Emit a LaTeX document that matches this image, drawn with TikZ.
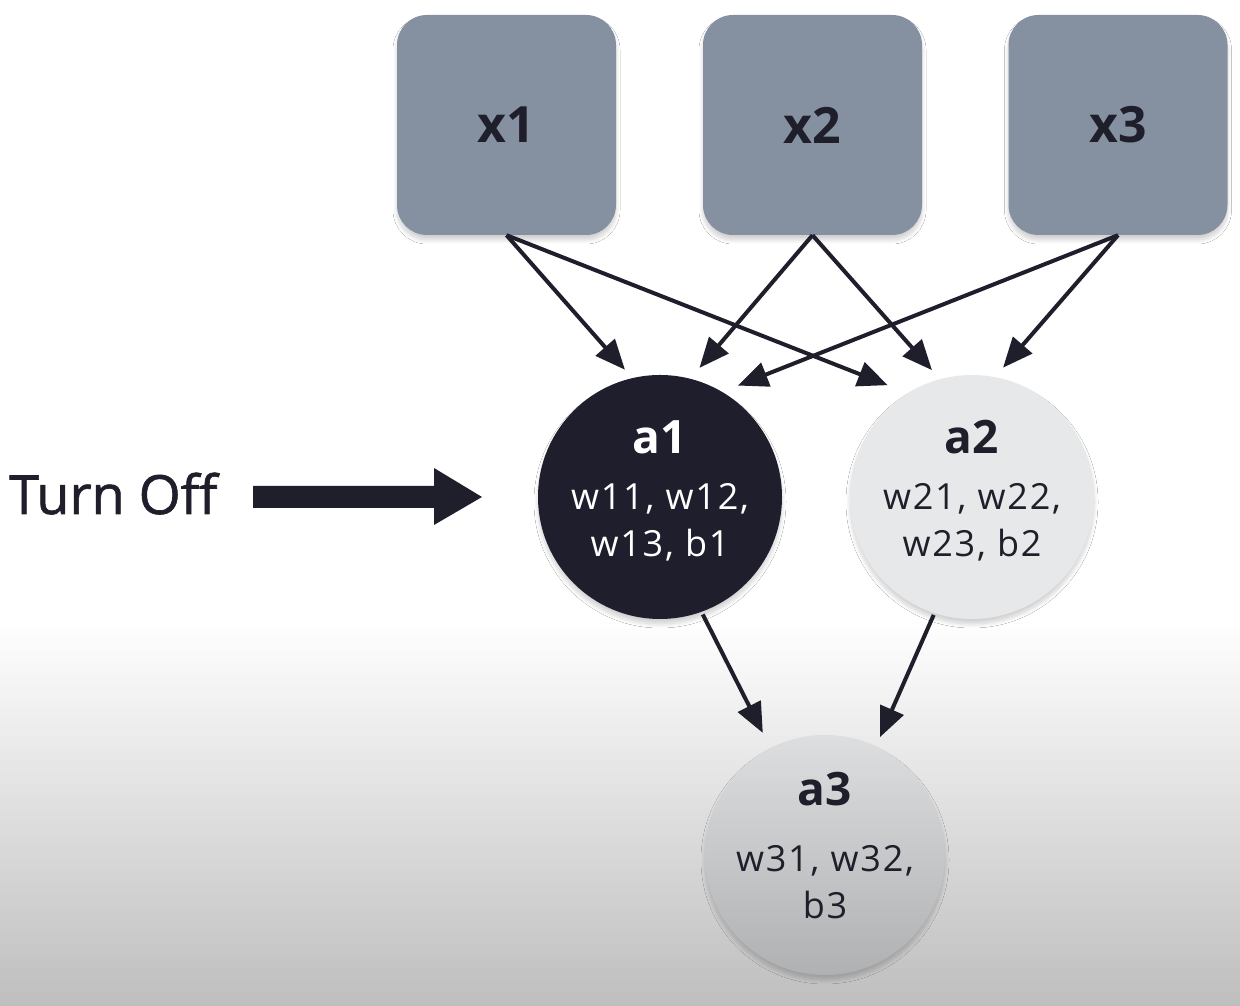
\documentclass[tikz,border=0pt]{standalone}
\usepackage{fontspec}
\setmainfont{Open Sans}
\newfontfamily\offfont[FakeBold=1.2]{Open Sans}
\usetikzlibrary{arrows.meta,calc,shadows.blur}
\definecolor{ink}{HTML}{1F1F2C}
\definecolor{boxc}{HTML}{8591A1}
\definecolor{aone}{HTML}{1E1E2D}
\definecolor{atwo}{HTML}{E7E8E9}
\definecolor{athree}{HTML}{CED0D2}
\definecolor{bgbot}{HTML}{BEBEBE}
\tikzset{
  softshadow/.style={blur shadow={shadow blur steps=8, shadow xshift=0pt, shadow yshift=-5pt, shadow blur radius=4pt, shadow opacity=18}},
  inbox/.style={rectangle, rounded corners=30pt, fill=boxc, minimum width=219pt, minimum height=220pt, inner sep=0pt,
    softshadow, font=\bfseries\fontsize{50}{50}\selectfont, text=ink},
  neuron/.style={circle, minimum size=#1, inner sep=0pt, softshadow},
  ttl/.style={font=\bfseries\fontsize{46}{46}\selectfont, text=ink, inner sep=0pt},
  wts/.style={font=\fontsize{36}{47}\selectfont\addfontfeatures{LetterSpace=5}, text=ink, align=center, inner sep=0pt},
  conn/.style={draw=ink, line width=4pt, -{Triangle[length=30pt,width=25pt]}},
}
\begin{document}
\begin{tikzpicture}[x=1pt,y=1pt]
\useasboundingbox (0,0) rectangle (1240,1006);
\fill[white] (0,380) rectangle (1240,1006);
\shade[top color=white, bottom color=bgbot] (0,0) rectangle (1240,386);
% inputs
\node[inbox] (x1) at (506.5,881) {x1};
\node[inbox] (x2) at (812.5,881) {x2};
\node[inbox] (x3) at (1118,881) {x3};
% neurons
\node[neuron=244pt, fill=aone] (a1) at (660,509) {};
\node[neuron=244pt, fill=atwo] (a2) at (972,509) {};
\node[neuron=240pt, top color=athree!70!white, bottom color=athree!85!black, shading angle=0] (a3) at (825,151) {};
\node[ttl, text=white] (a1t) at ($(a1)+(0,60)$) {a1};
\node[wts, text=white] (a1w) at ($(a1)+(0,-25)$) {w11, w12,\\w13, b1};
\node[ttl] (a2t) at ($(a2)+(0,60)$) {a2};
\node[wts] (a2w) at ($(a2)+(0,-25)$) {w21, w22,\\w23, b2};
\node[ttl] (a3t) at ($(a3)+(0,66)$) {a3};
\node[wts] (a3w) at ($(a3)+(0,-27)$) {w31, w32,\\b3};
% connectors
\draw[conn] (x1.south) -- ($(a1)+(105.4:132)$);
\draw[conn] (x2.south) -- ($(a1)+(73:135)$);
\draw[conn] (x3.south) -- ($(a1)+(55:136)$);
\draw[conn] (x1.south) -- ($(a2)+(127:140)$);
\draw[conn] (x2.south) -- ($(a2)+(107.5:133)$);
\draw[conn] (x3.south) -- ($(a2)+(76.5:133)$);
\draw[conn] ($(a1)+(-70:125)$) -- ($(a3)+(117:137)$);
\draw[conn] ($(a2)+(-108:124)$) -- ($(a3)+(65:130)$);
% turn off
\node[font=\offfont\fontsize{54}{54}\selectfont, text=ink, anchor=base west, inner sep=0pt] (off) at (9,492) {Turn Off};
\coordinate (offtip) at (482,509);
\fill[ink] (253,520) -- (434,520) -- (434,538) -- (offtip) -- (434,481) -- (434,498) -- (253,498) -- cycle;
\end{tikzpicture}
\end{document}
